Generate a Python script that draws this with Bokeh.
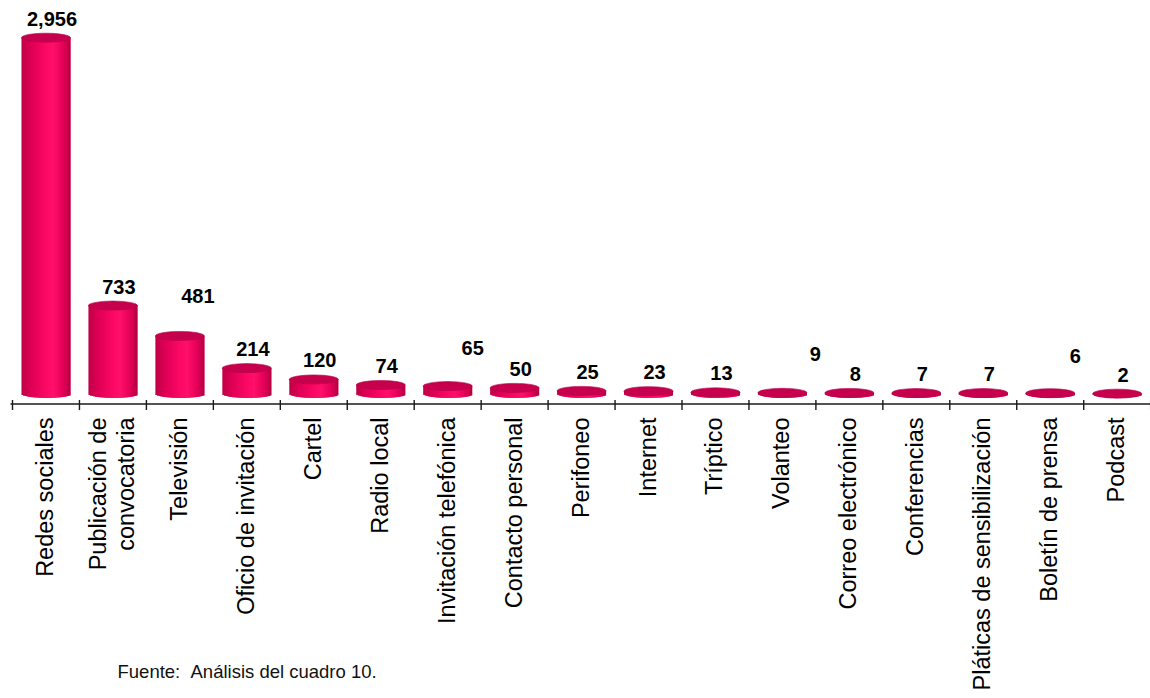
import numpy as np
from bokeh.plotting import figure
from bokeh.models import ColumnDataSource, Range1d, Label
from bokeh.core.properties import value
from bokeh.embed import file_html
from bokeh.resources import INLINE

# ---------------- data ----------------
categories = [
    "Redes sociales", "Publicación de\nconvocatoria", "Televisión",
    "Oficio de invitación", "Cartel", "Radio local", "Invitación telefónica",
    "Contacto personal", "Perifoneo", "Internet", "Tríptico", "Volanteo",
    "Correo electrónico", "Conferencias", "Pláticas de sensibilización",
    "Boletín de prensa", "Podcast",
]
counts = [2956, 733, 481, 214, 120, 74, 65, 50, 25, 23, 13, 9, 8, 7, 7, 6, 2]
source_note = "Fuente:\u00a0\u00a0Análisis del cuadro 10."

# ---------------- style / layout ----------------
W, H = 1150, 698
PX_PER_CAT = 66.95          # horizontal pixels per category slot
X0_PX = 12.0                # canvas x of the first slot boundary
PPU = 0.1205                # vertical pixels per unit
BASE_PX = 393.4             # canvas y of value 0 (base ellipse centre)
BAR_W_PX = 49.0
ELL_H_PX = 8.0
FONT = "Liberation Sans"
# extra (dx, dy) pixel nudges of some value labels, as in the reference
LABEL_NUDGE = {2: (12, 21), 6: (19, 19), 11: (27, 20), 15: (19, 18)}

x_start = -X0_PX / PX_PER_CAT
x_end = x_start + W / PX_PER_CAT
y_end = BASE_PX / PPU
y_start = y_end - H / PPU

p = figure(width=W, height=H, x_range=Range1d(x_start, x_end),
           y_range=Range1d(y_start, y_end), output_backend="svg",
           toolbar_location=None, x_axis_location=None, y_axis_location=None,
           min_border=0, outline_line_color=None)
p.background_fill_color = "white"
p.border_fill_color = "white"
p.xgrid.visible = False
p.ygrid.visible = False

n = len(categories)
centers = np.arange(n) + 0.5
bar_w = BAR_W_PX / PX_PER_CAT

# cylinder shading profile (position across bar -> rgb)
stops_t = [0.0, 0.2, 0.5, 0.65, 0.85, 1.0]
stops_c = [(192, 0, 70), (222, 0, 86), (252, 8, 100), (255, 16, 106), (228, 0, 88), (180, 0, 64)]

def shade(t):
    rgb = [int(round(np.interp(t, stops_t, [c[k] for c in stops_c]))) for k in range(3)]
    return "#%02x%02x%02x" % tuple(rgb)

NS = 30
s = bar_w / NS
xs, ws, tops, bottoms, cols = [], [], [], [], []
for i, v in enumerate(counts):
    left = centers[i] - bar_w / 2
    for j in range(NS):
        t = (j + 0.5) / NS
        u = 2 * t - 1
        depth = (ELL_H_PX / 2) * np.sqrt(max(0.0, 1 - u * u))
        w = min(2.2 * s, bar_w - j * s)
        xs.append(left + j * s + w / 2)
        ws.append(w)
        tops.append(v)
        bottoms.append(-depth / PPU)
        cols.append(shade(t))
strip_src = ColumnDataSource(dict(x=xs, w=ws, top=tops, bottom=bottoms, color=cols))
p.vbar(x="x", top="top", bottom="bottom", width="w",
       fill_color="color", line_color=None, source=strip_src)

# top surfaces
p.ellipse(x=centers, y=counts, width=bar_w, height=ELL_H_PX + 1,
          height_units="screen", fill_color="#c6004d", line_color="#b30045",
          line_width=0.6)

# value labels
lx, ly, lt = [], [], []
for i, v in enumerate(counts):
    dx, dy = LABEL_NUDGE.get(i, (0, 0))
    lx.append(centers[i] + (6 + dx) / PX_PER_CAT)
    ly.append(v + (ELL_H_PX / 2 + 15 + dy) / PPU)
    lt.append(f"{v:,}")
p.text(x=lx, y=ly, text=lt, text_font=value(FONT), text_font_style="bold",
       text_font_size="20px", text_align="center", text_baseline="middle",
       text_color="black")

# axis line and boundary ticks
axis_y = -10.1 / PPU
p.segment(x0=[-0.03], y0=[axis_y], x1=[n + 0.2], y1=[axis_y], line_color="#1a1a1a",
          line_width=1.6)
bounds = np.arange(n + 1)
p.segment(x0=bounds, y0=axis_y + 4 / PPU, x1=bounds, y1=axis_y - 6 / PPU,
          line_color="#1a1a1a", line_width=1.4)

# category labels (vertical)
p.text(x=centers - 1 / PX_PER_CAT, y=[-23.6 / PPU] * n, text=categories,
       angle=np.pi / 2, text_font=value(FONT), text_font_size="23.5px",
       text_align="right", text_baseline="middle", text_color="black",
       text_line_height=1.1)

p.add_layout(Label(x=117, y=H - 671, x_units="screen", y_units="screen",
                   text=source_note, text_font=FONT, text_font_size="18.5px",
                   text_baseline="middle", text_color="#111111"))

open("out.html", "w").write(file_html(p, INLINE))
